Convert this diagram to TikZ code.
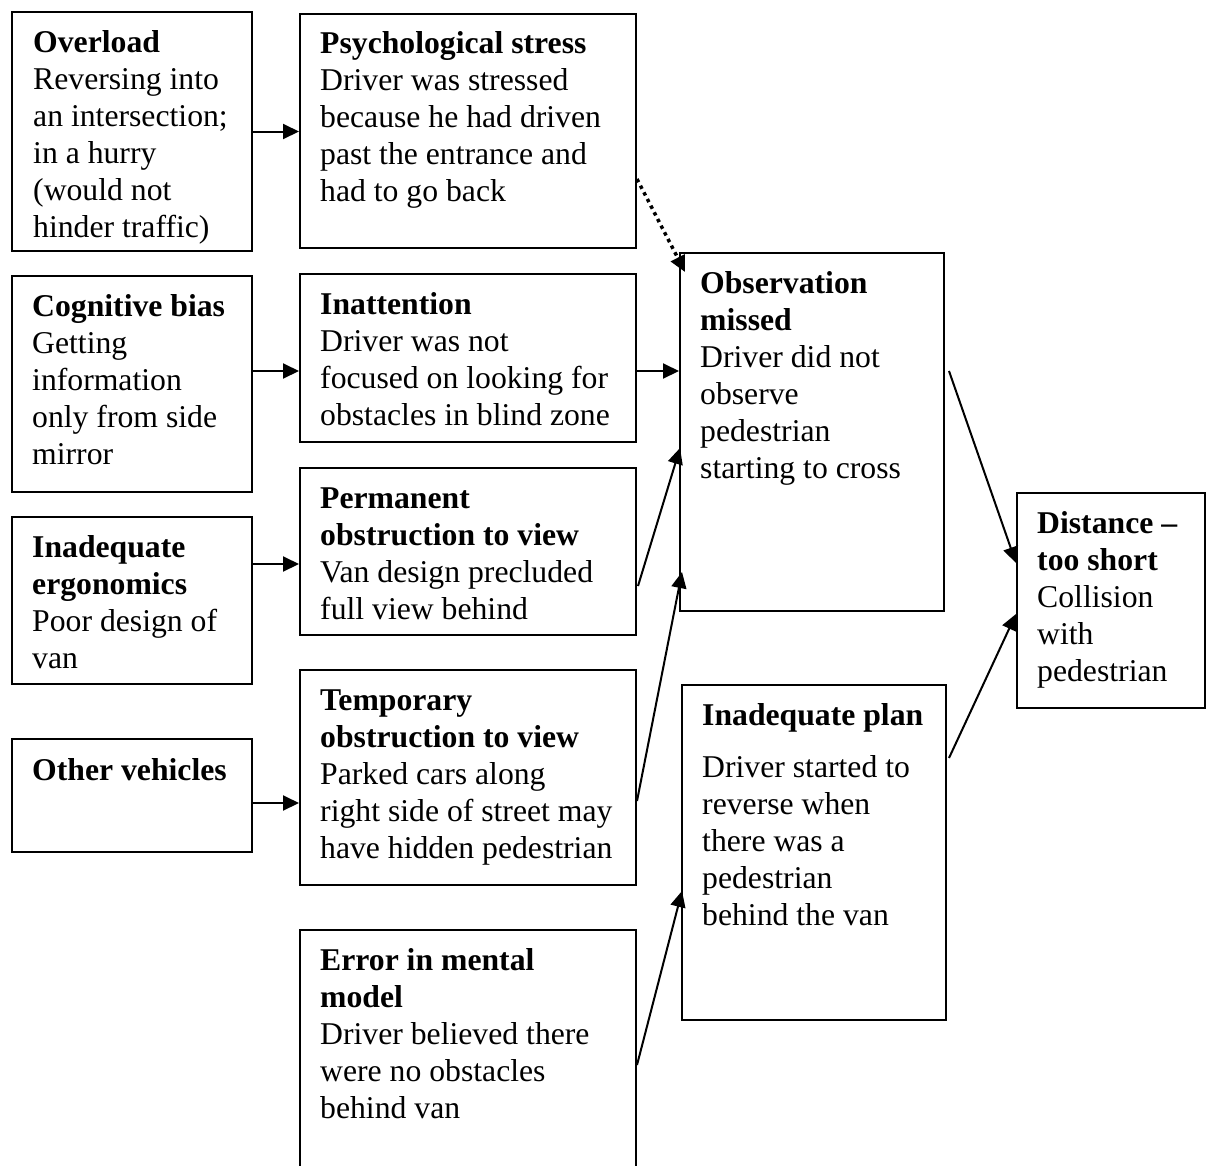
\documentclass[tikz,border=0pt]{standalone}
\usepackage{fontspec}
\setmainfont{Liberation Serif}
\usetikzlibrary{arrows.meta}

\tikzset{
  box/.style={draw, line width=2pt, rectangle, inner sep=0pt, anchor=north west},
  txt/.style={anchor=north west, inner sep=0pt, align=left,
              font=\fontsize{31.7}{37}\selectfont},
  link/.style={line width=2pt, -{Triangle[length=16pt,width=15pt]}},
  dotlink/.style={line width=3.5pt, dash pattern=on 3.5pt off 4pt,
                  -{Triangle[length=16pt,width=15pt]}}
}

% place a box from its corners (left, top, right, bottom) in page units
\newcommand{\cbox}[5]{%
  \node[box, minimum width={#4-#2}, minimum height={#5-#3}] (#1) at (#2,#3) {};}

\begin{document}
\begin{tikzpicture}[x=1pt, y=-1pt]
\clip (0,0) rectangle (1210,1165);
\fill[white] (0,0) rectangle (1210,1165);

% first column: underlying factors
\cbox{ovl}{11}{11}{251}{250}
\cbox{cog}{11}{275}{251}{491}
\cbox{erg}{11}{516}{251}{683}
\cbox{oth}{11}{738}{251}{851}
% second column
\cbox{psy}{299}{13}{635}{247}
\cbox{ina}{299}{273}{635}{441}
\cbox{per}{299}{467}{635}{634}
\cbox{tem}{299}{669}{635}{884}
\cbox{err}{299}{929}{635}{1185}
% third column
\cbox{obs}{679}{252}{943}{610}
\cbox{pla}{681}{684}{945}{1019}
% outcome
\cbox{dis}{1016}{492}{1204}{707}

\node[txt] (ovl-t) at ([xshift=22pt,yshift=-15pt]ovl.north west)
  {\strut\textbf{Overload}\\Reversing into\\an intersection;\\in a hurry\\(would not\\hinder traffic)};
\node[txt] (cog-t) at ([xshift=21pt,yshift=-15pt]cog.north west)
  {\strut\textbf{Cognitive bias}\\Getting\\information\\only from side\\mirror};
\node[txt] (erg-t) at ([xshift=21pt,yshift=-15pt]erg.north west)
  {\strut\textbf{Inadequate}\\\textbf{ergonomics}\\Poor design of\\van};
\node[txt] (oth-t) at ([xshift=21pt,yshift=-16pt]oth.north west)
  {\strut\textbf{Other vehicles}};

\node[txt] (psy-t) at ([xshift=21pt,yshift=-14pt]psy.north west)
  {\strut\textbf{Psychological stress}\\Driver was stressed\\because he had driven\\past the entrance and\\had to go back};
\node[txt] (ina-t) at ([xshift=21pt,yshift=-15pt]ina.north west)
  {\strut\textbf{Inattention}\\Driver was not\\focused on looking for\\obstacles in blind zone};
\node[txt] (per-t) at ([xshift=21pt,yshift=-15pt]per.north west)
  {\strut\textbf{Permanent}\\\textbf{obstruction to view}\\Van design precluded\\full view behind};
\node[txt] (tem-t) at ([xshift=21pt,yshift=-15pt]tem.north west)
  {\strut\textbf{Temporary}\\\textbf{obstruction to view}\\Parked cars along\\right side of street may\\have hidden pedestrian};
\node[txt] (err-t) at ([xshift=21pt,yshift=-15pt]err.north west)
  {\strut\textbf{Error in mental}\\\textbf{model}\\Driver believed there\\were no obstacles\\behind van};

\node[txt] (obs-t) at ([xshift=21pt,yshift=-15pt]obs.north west)
  {\strut\textbf{Observation}\\\textbf{missed}\\Driver did not\\observe\\pedestrian\\starting to cross};
\node[txt] (pla-t) at ([xshift=21pt,yshift=-15pt]pla.north west)
  {\strut\textbf{Inadequate plan}\\[15pt]Driver started to\\reverse when\\there was a\\pedestrian\\behind the van};
\node[txt] (dis-t) at ([xshift=21pt,yshift=-15pt]dis.north west)
  {\strut\textbf{Distance –}\\\textbf{too short}\\Collision\\with\\pedestrian};

% straight links into the second column
\draw[link] (ovl.east) -- (ovl.east -| psy.west);
\draw[link] ([yshift=13pt]cog.east) -- ([yshift=13pt]cog.east -| ina.west);
\draw[link] ([yshift=-12.5pt]per.west -| erg.east) -- ([yshift=-12.5pt]per.west);
\draw[link] ([yshift=-7.5pt]oth.east) -- ([yshift=-7.5pt]oth.east -| tem.west);

% links into "Observation missed"
\draw[dotlink] ([yshift=-48pt]psy.east) -- ([xshift=6pt,yshift=-20pt]obs.north west);
\draw[link] ([yshift=-13pt]ina.east) -- ([yshift=-13pt]ina.east -| obs.west);
\draw[link] ([xshift=1pt,yshift=-34.5pt]per.east) -- ([xshift=1pt,yshift=-16pt]obs.west);
\draw[link] ([yshift=-23.5pt]tem.east) -- ([xshift=3pt,yshift=40pt]obs.south west);

% link into "Inadequate plan"
\draw[link] ([yshift=-136pt]err.north east) -- ([xshift=1pt,yshift=-38.5pt]pla.west);

% links into the outcome
\draw[link] ([xshift=4pt,yshift=61pt]obs.east) -- ([yshift=37.5pt]dis.west);
\draw[link] ([xshift=2pt,yshift=94.5pt]pla.east) -- ([yshift=-13.5pt]dis.west);
\end{tikzpicture}
\end{document}
